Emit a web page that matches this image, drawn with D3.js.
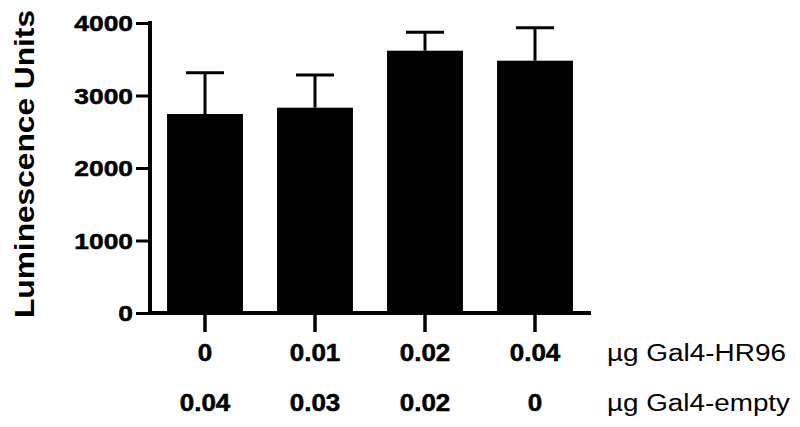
<!DOCTYPE html>
<html>
<head>
<meta charset="utf-8">
<script src="https://cdn.jsdelivr.net/npm/d3@7"></script>
<style>
  body { margin: 0; background: #fff; }
  svg text { font-family: Arial, "Liberation Sans", sans-serif; }
</style>
</head>
<body>
<div id="chart"></div>
<script>
// data
const groups = ["A", "B", "C", "D"];
const hr96 = ["0", "0.01", "0.02", "0.04"];
const empty = ["0.04", "0.03", "0.02", "0"];
const means = [2745, 2832, 3618, 3480];
const errors = [570, 451, 254, 455];
const yTicks = [0, 1000, 2000, 3000, 4000];
const rowLabels = ["\u00b5g Gal4-HR96", "\u00b5g Gal4-empty"];

const svgWidth = 800;
const svgHeight = 427;

const svg = d3
  .select("#chart")
  .append("svg")
  .attr("width", svgWidth)
  .attr("height", svgHeight);

const xScale = d3.scaleBand().domain(groups).range([150, 590]).paddingInner(0.31).paddingOuter(0.155);
const yScale = d3.scaleLinear().domain([0, 4000]).range([313, 23]);

// bars
svg
  .selectAll(".bar")
  .data(groups)
  .enter()
  .append("rect")
  .attr("class", "bar")
  .attr("x", (d) => xScale(d))
  .attr("y", (d, i) => yScale(means[i]))
  .attr("width", xScale.bandwidth())
  .attr("height", (d, i) => yScale(0) - yScale(means[i]))
  .attr("fill", "#000");

// error bars (upper only)
const cx = (d) => xScale(d) + xScale.bandwidth() / 2;
const capW = xScale.bandwidth() / 2;
svg
  .selectAll(".err")
  .data(groups)
  .enter()
  .append("line")
  .attr("x1", cx)
  .attr("x2", cx)
  .attr("y1", (d, i) => yScale(means[i]))
  .attr("y2", (d, i) => yScale(means[i] + errors[i]))
  .attr("stroke", "#000")
  .attr("stroke-width", 3);
svg
  .selectAll(".cap")
  .data(groups)
  .enter()
  .append("line")
  .attr("x1", (d) => cx(d) - capW / 2)
  .attr("x2", (d) => cx(d) + capW / 2)
  .attr("y1", (d, i) => yScale(means[i] + errors[i]))
  .attr("y2", (d, i) => yScale(means[i] + errors[i]))
  .attr("stroke", "#000")
  .attr("stroke-width", 3);

// y axis
const yAxis = svg
  .append("g")
  .attr("transform", "translate(150,0)")
  .call(d3.axisLeft(yScale).tickValues(yTicks).tickSize(14).tickSizeOuter(0).tickFormat(d3.format("d")));
yAxis.select(".domain").attr("stroke-width", 4).attr("d", "M0,21V315");
yAxis.selectAll(".tick line").attr("stroke-width", 3);
yAxis
  .selectAll(".tick text")
  .attr("x", 0)
  .attr("dy", "0.36em")
  .attr("transform", "translate(-17,0) scale(1.2,1)")
  .style("font-size", "22px")
  .style("font-weight", "bold")
  .attr("stroke", "#000")
  .attr("stroke-width", 0.5)
  .attr("fill", "#000");

// x axis line + ticks
svg
  .append("line")
  .attr("x1", 148)
  .attr("x2", 591)
  .attr("y1", 313)
  .attr("y2", 313)
  .attr("stroke", "#000")
  .attr("stroke-width", 4);
svg
  .selectAll(".xtick")
  .data(groups)
  .enter()
  .append("line")
  .attr("x1", cx)
  .attr("x2", cx)
  .attr("y1", 313)
  .attr("y2", 332)
  .attr("stroke", "#000")
  .attr("stroke-width", 3.5);

// category labels, two rows
[hr96, empty].forEach((row, r) => {
  svg
    .selectAll(".lab" + r)
    .data(groups)
    .enter()
    .append("text")
    .attr("transform", (d) => `translate(${cx(d)},${361 + r * 50}) scale(1.13,1)`)
    .attr("text-anchor", "middle")
    .style("font-size", "23px")
    .style("font-weight", "bold")
    .attr("stroke", "#000")
    .attr("stroke-width", 0.5)
    .text((d, i) => row[i]);
});

// row titles on the right
svg
  .selectAll(".rowlab")
  .data(rowLabels)
  .enter()
  .append("text")
  .attr("x", 607)
  .attr("y", (d, i) => 361 + i * 50)
  .attr("textLength", (d, i) => (i === 0 ? 179 : 183))
  .attr("lengthAdjust", "spacingAndGlyphs")
  .style("font-size", "23px")
  .text((d) => d);

// y axis title
svg
  .append("text")
  .attr("transform", "translate(34,164) rotate(-90)")
  .attr("text-anchor", "middle")
  .attr("textLength", 308)
  .attr("lengthAdjust", "spacingAndGlyphs")
  .style("font-size", "28px")
  .style("font-weight", "bold")
  .text("Luminescence Units");
</script>
</body>
</html>
